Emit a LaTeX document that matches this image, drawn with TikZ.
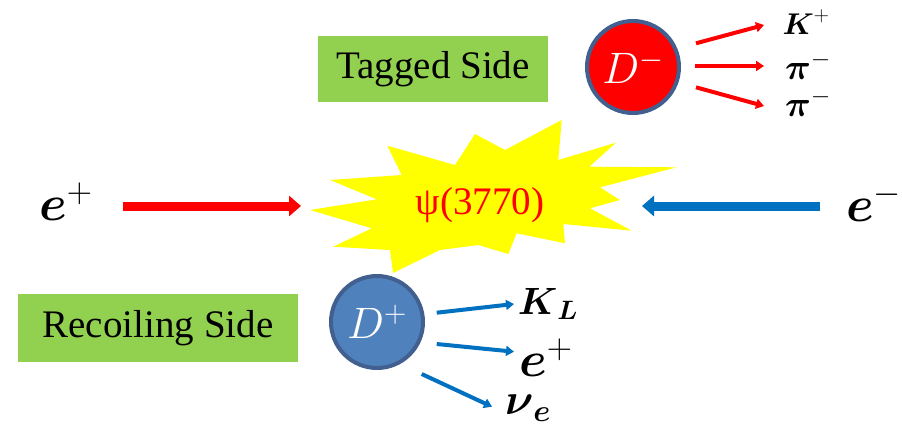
\RequirePackage{fix-cm}
\documentclass[tikz,border=0pt]{standalone}
\usepackage{amsmath}
\usepackage{fontspec}
\setmainfont{Liberation Serif}
\newfontfamily\timesfont{Liberation Serif}
\usetikzlibrary{arrows.meta}
\definecolor{boxgreen}{HTML}{92D050}
\definecolor{arrblue}{HTML}{0070C0}
\definecolor{dplus}{HTML}{4F81BD}
\definecolor{dborder}{HTML}{41608F}
\definecolor{burst}{HTML}{FFFF00}
\begin{document}
\begin{tikzpicture}[x=1pt,y=-1pt,
  sidebox/.style={fill=boxgreen, inner sep=0pt, font=\timesfont\fontsize{39}{42}\selectfont},
  meson/.style={circle, draw=dborder, line width=4pt, minimum size=92pt, inner sep=0pt, text=white, font=\fontsize{44}{48}\selectfont},
  beamarrow/.style={line width=9pt, -{Triangle[length=12pt,width=20pt]}},
  decayarrow/.style={line width=4pt, -{Triangle[length=8pt,width=10pt]}},
  particle/.style={inner sep=0pt, font=\fontsize{#1}{#1}\selectfont},
  particle/.default=36]
\useasboundingbox (0,0) rectangle (902,437);

% boxes
\node[sidebox, minimum width=230pt, minimum height=66pt] (tagged) at (433,69) {Tagged Side};
\node[sidebox, minimum width=280pt, minimum height=68pt] (recoil) at (158,328) {Recoiling Side};

% starburst
\fill[burst] (310,210) -- (376.7,199.3) -- (330,180) -- (401.7,175) -- (387.3,145.7) -- (455,165) -- (475,134) -- (505,150) -- (561.7,120) -- (558.3,160) -- (616,142.7) -- (589.3,166.7) -- (676.7,167.3) -- (600,187.3) -- (620,200) -- (590,208.3) -- (631.7,230.7) -- (563.3,224) -- (565,243.3) -- (516.7,233.3) -- (508.3,254) -- (478.3,245) -- (440,250) -- (393,273) -- (390,250) -- (333.3,246.7) -- (371.7,228.3) -- cycle;
\node[text=red, font=\timesfont\fontsize{39}{42}\selectfont, inner sep=0pt] (psi) at (480,205) {ψ(3770)};

% beams
\node[particle=50] (eplus) at (66,202) {$\boldsymbol{e}^{+}$};
\node[particle=50] (eminus) at (874,202) {$\boldsymbol{e}^{-}$};
\coordinate (bl1) at (123,206);
\coordinate (bl2) at (301,206);
\coordinate (br1) at (820,206);
\coordinate (br2) at (642,206);
\draw[beamarrow, red] (bl1) -- (bl2);
\draw[beamarrow, arrblue] (br1) -- (br2);

% D- side
\node[meson, fill=red] (dminus) at (633,67) {$D^{-}$};
\coordinate (ta1) at (696,43.3);
\coordinate (tb1) at (764,25);
\coordinate (ta2) at (695,66);
\coordinate (tb2) at (764,66);
\coordinate (ta3) at (696,87.3);
\coordinate (tb3) at (764,106);
\draw[decayarrow, red] (ta1) -- (tb1);
\draw[decayarrow, red] (ta2) -- (tb2);
\draw[decayarrow, red] (ta3) -- (tb3);
\node[particle=30] (kplus) at (806,22) {$\boldsymbol{K}^{+}$};
\node[particle=36] (pi1) at (808,66) {$\boldsymbol{\pi}^{-}$};
\node[particle=36] (pi2) at (808,103) {$\boldsymbol{\pi}^{-}$};

% D+ side
\node[meson, fill=dplus] (dplusn) at (377,322) {$D^{+}$};
\coordinate (ra1) at (436.7,312.7);
\coordinate (rb1) at (514,304);
\coordinate (ra2) at (436.7,344);
\coordinate (rb2) at (514,351.7);
\coordinate (ra3) at (421.7,374);
\coordinate (rb3) at (492,406.7);
\draw[decayarrow, arrblue] (ra1) -- (rb1);
\draw[decayarrow, arrblue] (ra2) -- (rb2);
\draw[decayarrow, arrblue] (ra3) -- (rb3);
\node[particle=38] (kl) at (548,304) {$\boldsymbol{K}_{\boldsymbol{L}}$};
\node[particle=50] (eplus2) at (546,358) {$\boldsymbol{e}^{+}$};
\node[particle=44] (nue) at (528,408) {$\boldsymbol{\nu}_{\boldsymbol{e}}$};
\end{tikzpicture}
\end{document}
